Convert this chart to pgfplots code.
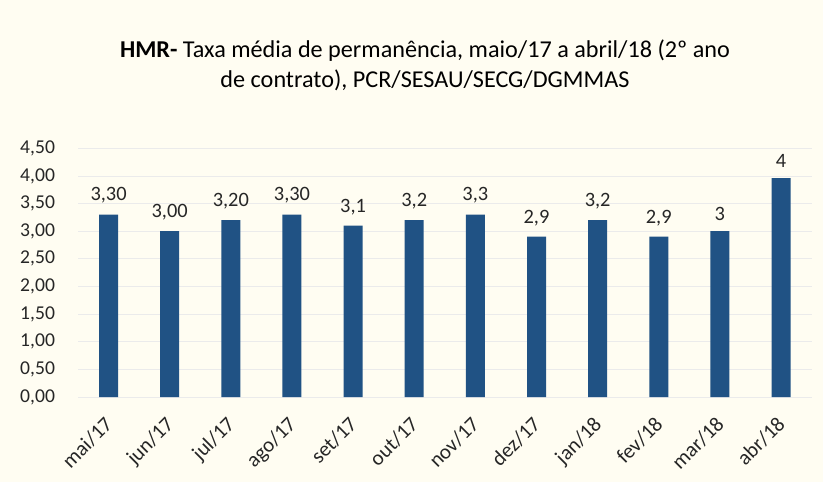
\documentclass[border=0pt]{standalone}
\usepackage{fontspec}
\setmainfont{Carlito}
\usepackage{pgfplots}
\pgfplotsset{compat=1.18}
\definecolor{bar}{RGB}{32,82,132}
\definecolor{bg}{RGB}{255,253,242}
\begin{document}
\begin{tikzpicture}
\fill[bg] (0,0) rectangle (411.5pt,241pt);
\node[align=center,font=\fontsize{12.1}{15}\selectfont] at (212.5pt,208.5pt)
  {\textbf{HMR-} Taxa média de permanência, maio/17 a abril/18 (2º ano\\de contrato), PCR/SESAU/SECG/DGMMAS};
\begin{axis}[
  at={(39pt,42.5pt)}, anchor=south west,
  scale only axis, width=366.8pt, height=124.35pt,
  xmin=-0.5, xmax=11.5, ymin=0, ymax=4.5,
  ytick={0,0.5,...,4.5},
  xtick={0,...,11},
  xticklabels={mai/17,jun/17,jul/17,ago/17,set/17,out/17,nov/17,dez/17,jan/18,fev/18,mar/18,abr/18},
  axis line style={draw=none},
  major tick length=0pt,
  ymajorgrids, grid style={black!8, line width=0.4pt},
  tick label style={font=\fontsize{9.8}{11}\selectfont, text=black!85},
  yticklabel style={xshift=-8pt},
  xticklabel style={xshift=-2.6pt, yshift=-9pt, rotate=45, anchor=north east, inner sep=0pt, font=\fontsize{10.5}{12}\selectfont},
  /pgf/number format/.cd, use comma, fixed, fixed zerofill, precision=2, assume math mode=true,
]
\addplot[ybar, bar width=9.5pt, fill=bar, draw=none,
  point meta=explicit symbolic,
  nodes near coords, every node near coord/.append style={font=\fontsize{10.2}{12}\selectfont, text=black!85, yshift=2pt}]
  table[meta=lab] {
x y lab
0 3.30 3,30
1 3.00 3,00
2 3.20 3,20
3 3.30 3,30
4 3.10 3,1
5 3.20 3,2
6 3.30 3,3
7 2.90 2,9
8 3.20 3,2
9 2.90 2,9
10 3.00 3
11 3.96 4
};
\end{axis}
\end{tikzpicture}
\end{document}
